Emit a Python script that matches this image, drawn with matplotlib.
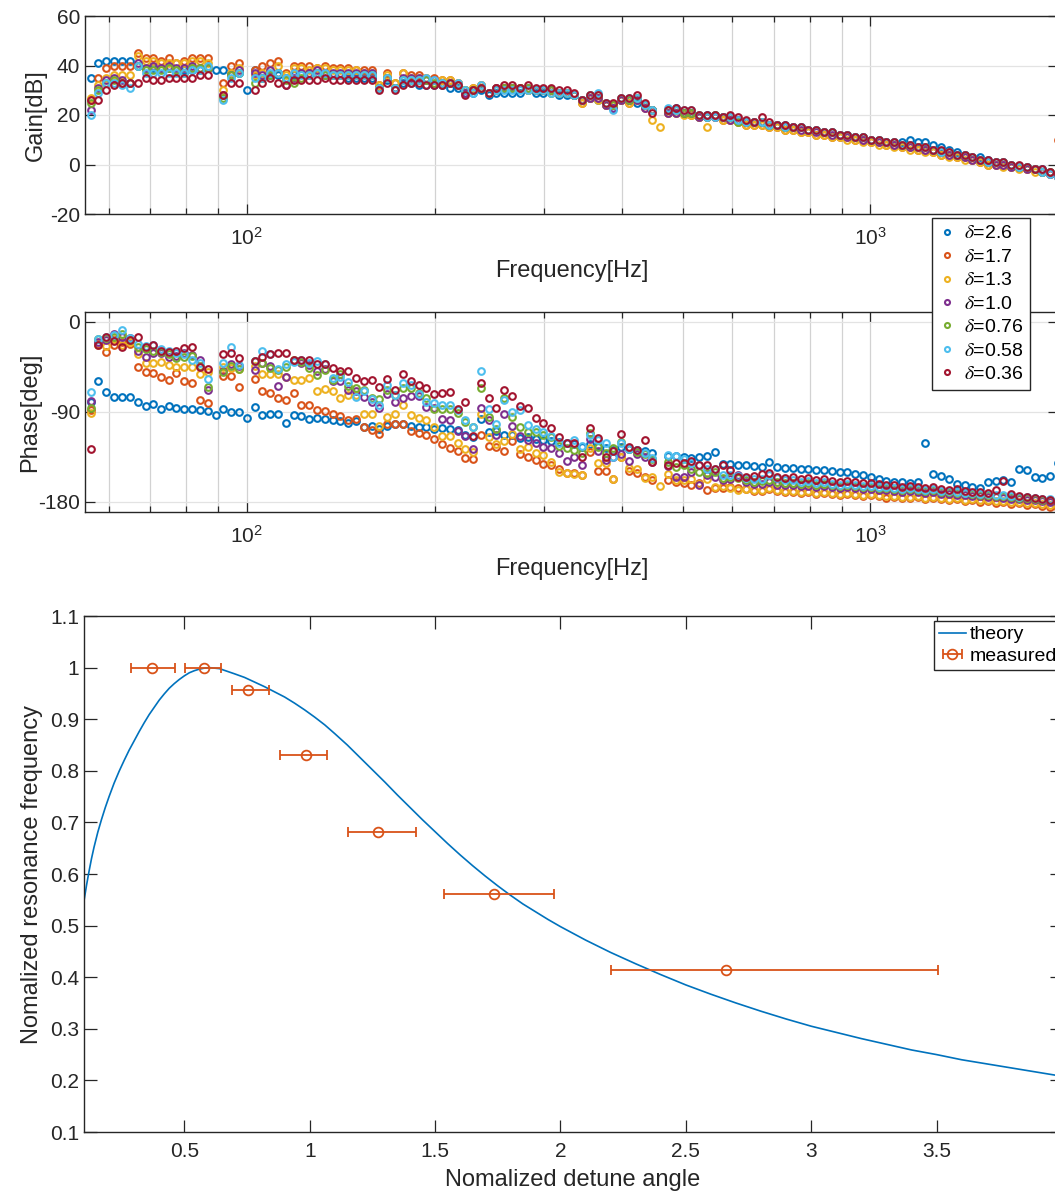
import numpy as np
import matplotlib.pyplot as plt
from matplotlib.ticker import NullFormatter

plt.rcParams['font.family'] = ['Liberation Sans', 'DejaVu Sans']
plt.rcParams['mathtext.fontset'] = 'stix'
plt.rcParams['axes.unicode_minus'] = False

nan = float('nan')

# ================== data ==================

freq = [56.2, 57.8, 59.5, 61.3, 63.1, 64.9, 66.8, 68.8, 70.8, 72.8,
        75.0, 77.1, 79.4, 81.7, 84.1, 86.6, 89.1, 91.7, 94.4, 97.1,
        100.0, 102.9, 105.9, 109.0, 112.2, 115.5, 118.9, 122.3, 125.9, 129.6,
        133.4, 137.3, 141.3, 145.4, 149.7, 154.0, 158.5, 163.2, 168.0, 172.9,
        177.9, 183.1, 188.5, 194.0, 199.7, 205.5, 211.5, 217.7, 224.0, 230.6,
        237.3, 244.3, 251.4, 258.8, 266.3, 274.1, 282.1, 290.4, 298.8, 307.6,
        316.5, 325.8, 335.3, 345.1, 355.2, 365.6, 376.2, 387.2, 398.5, 410.2,
        422.2, 434.5, 447.2, 460.3, 473.7, 487.6, 501.8, 516.5, 531.6, 547.1,
        563.1, 579.6, 596.5, 614.0, 631.9, 650.4, 669.4, 688.9, 709.1, 729.8,
        751.1, 773.1, 795.7, 818.9, 842.9, 867.5, 892.9, 919.0, 945.8, 973.4,
        1002, 1031, 1061, 1092, 1124, 1157, 1191, 1226, 1262, 1299,
        1337, 1376, 1416, 1457, 1500, 1544, 1589, 1635, 1683, 1732,
        1783, 1835, 1888, 1944, 2000]

labels = [r'$\delta$=2.6', r'$\delta$=1.7', r'$\delta$=1.3', r'$\delta$=1.0',
          r'$\delta$=0.76', r'$\delta$=0.58', r'$\delta$=0.36']
colors = ['#0072BD', '#D95319', '#EDB120', '#7E2F8E', '#77AC30', '#4DBEEE', '#A2142F']

gain_26 = [35, 41, 42, 42, 42, 42, 40, 39, 39, 39,
           39, 38, 38, 38, 38, 39, 38, 38, 37, 37,
           30, 38, 35, 36, 36, 35, 36, 37, 36, 37,
           36, 36, 36, 35, 35, 35, 35, 31, 34, 31,
           33, 33, 32, 32, 32, 32, 31, 31, 29, 29,
           30, 28, 29, 29, 29, 29, 30, 29, 29, 29,
           28, 28, 28, 26, 27, 26, 24, 23, 26, 26,
           25, 24, 22, nan, 22, 23, 21, 21, 19, 20,
           20, 19, 19, 18, 17, 17, 17, 16, 16, 16,
           15, 15, 14, 14, 13, 13, 12, 12, 11, 11,
           10, 10, 9, 9, 9, 10, 9, 9, 8, 7,
           6, 5, 4, 3, 3, 2, 1, 1, 0, -1,
           -1, -2, -2, -3, -4]
gain_17 = [26, 35, 39, 40, 40, 40, 45, 43, 43, 42,
           43, 41, 42, 43, 43, 43, nan, 33, 40, 41,
           nan, 38, 40, 41, 42, 37, 40, 40, 40, 39,
           40, 39, 39, 39, 38, 38, 38, 32, 37, 33,
           37, 36, 36, 35, 35, 34, 34, 33, 30, 31,
           32, 29, 31, 31, 31, 31, 30, 30, 30, 30,
           29, 29, 28, 25, 27, 27, 24, 24, 26, 25,
           26, 23, 22, nan, 21, 21, 21, 20, 19, 19,
           19, 18, 18, 17, 16, 16, 16, 15, 15, 14,
           14, 13, 13, 12, 12, 11, 11, 11, 10, 10,
           9, 9, 8, 8, 7, 7, 6, 6, 5, 4,
           4, 3, 3, 2, 1, 0, 0, 0, -1, -1,
           -2, -2, -3, -4, 10]
gain_13 = [27, 32, 35, 36, 36, 36, 44, 42, 42, 41,
           41, 41, 41, 42, 42, 41, nan, 30, 37, 39,
           nan, 36, 37, 38, 40, 36, 39, 39, 38, 39,
           39, 38, 38, 38, 38, 37, 37, 32, 36, 33,
           37, 35, 35, 35, 34, 34, 34, 33, 30, 31,
           32, 29, 31, 31, 31, 31, 30, 30, 30, 29,
           29, 29, 28, 25, 27, 26, 24, 24, 26, 25,
           26, 24, 18, 15, 21, 21, 20, 20, 19, 15,
           19, 18, 18, 17, 16, 16, 16, 15, 15, 14,
           14, 13, 13, 12, 12, 11, 11, 10, 10, 9,
           9, 8, 8, 7, 7, 6, 6, 5, 5, 4,
           3, 3, 2, 2, 1, 0, 0, -1, -1, -2,
           -2, -3, -3, -4, -5]
gain_10 = [22, 31, 34, 35, 34, 33, 41, 39, 40, 39,
           40, 39, 39, 40, 39, 39, nan, 28, 36, 38,
           nan, 37, 36, 38, 37, 32, 35, 37, 37, 38,
           37, 37, 37, 37, 37, 37, 37, 31, 35, 31,
           35, 35, 35, 34, 34, 33, 33, 32, 29, 30,
           31, 29, 31, 31, 31, 31, 31, 30, 30, 30,
           29, 29, 28, 26, 27, 27, 24, 23, 26, 26,
           26, 23, 22, nan, 21, 21, 21, 21, 19, 19,
           19, 19, 18, 18, 17, 17, 17, 16, 16, 15,
           15, 14, 14, 13, 13, 12, 12, 11, 11, 10,
           10, 9, 9, 8, 8, 7, 7, 6, 6, 5,
           4, 4, 3, 2, 2, 1, 0, 0, -1, -1,
           -2, -2, -3, -4, -5]
gain_076 = [25, 30, 33, 34, 33, 33, 40, 38, 38, 38,
            39, 38, 37, 39, 39, 39, nan, 27, 36, 37,
            nan, 33, 35, 36, 37, 34, 33, 35, 36, 37,
            36, 36, 36, 36, 36, 36, 36, 31, 35, 31,
            34, 34, 34, 34, 33, 33, 33, 32, 30, 30,
            31, 29, 30, 31, 31, 31, 31, 30, 30, 30,
            29, 29, 28, 26, 28, 28, 25, 24, 27, 26,
            27, 24, 22, nan, 22, 22, 21, 21, 20, 19,
            20, 19, 19, 17, 17, 17, 17, 16, 16, 15,
            15, 15, 14, 14, 13, 13, 12, 12, 11, 11,
            10, 10, 9, 9, 8, 8, 7, 7, 6, 5,
            5, 4, 4, 3, 2, 1, 1, 1, 0, -1,
            -1, -2, -3, -3, -4]
gain_058 = [20, 29, 33, 33, 32, 31, 40, 37, 37, 37,
            37, 37, 37, 38, 38, 40, nan, 26, 35, 37,
            nan, 35, 35, 37, 37, 35, 37, 36, 36, 37,
            37, 36, 36, 36, 36, 36, 36, 31, 35, 31,
            34, 34, 34, 35, 34, 33, 33, 33, 30, 29,
            32, 29, 30, 30, 30, 30, 30, 30, 30, 29,
            29, 29, 28, 26, 28, 29, 25, 22, 27, 27,
            27, 24, 22, nan, 23, 22, 22, 22, 20, 19,
            19, 19, 19, 18, 17, 17, 17, 16, 16, 15,
            15, 15, 14, 14, 13, 13, 12, 12, 11, 11,
            10, 10, 9, 9, 8, 8, 7, 7, 6, 5,
            5, 4, 4, 3, 2, 1, 1, 1, 0, -1,
            -1, -2, -3, -4, -5]
gain_036 = [26, 26, 30, 32, 33, 33, 33, 35, 34, 34,
            35, 35, 35, 35, 36, 36, nan, 28, 33, 33,
            nan, 30, 33, 35, 33, 32, 34, 34, 34, 34,
            35, 34, 34, 34, 34, 34, 34, 30, 33, 30,
            32, 33, 33, 32, 32, 32, 33, 32, 28, 30,
            31, 29, 31, 32, 32, 31, 32, 31, 31, 31,
            30, 30, 29, 26, 28, 28, 25, 25, 27, 27,
            28, 25, 21, nan, 22, 23, 22, 22, 20, 20,
            20, 19, 20, 19, 18, 17, 19, 17, 16, 16,
            15, 15, 14, 14, 13, 13, 12, 12, 11, 11,
            10, 10, 9, 9, 8, 8, 7, 7, 6, 6,
            5, 4, 4, 3, 2, 2, 1, 1, 0, 0,
            -1, -2, -2, -3, -4]

phase_26 = [-80, -59, -70, -75, -75, -75, -80, -84, -82, -87,
            -84, -86, -87, -87, -88, -89, -93, -87, -90, -90,
            -96, -85, -93, -92, -92, -101, -93, -94, -97, -96,
            -97, -98, -99, -101, -99, -105, -104, -107, -104, -102,
            -102, -104, -105, -105, -107, -106, -107, -108, -113, -115,
            -97, -110, -109, -113, -113, -116, -115, -117, -118, -119,
            -120, -121, -122, -125, -122, -124, -126, -128, -125, -127,
            -128, -129, -131, nan, -134, -134, -135, -136, -135, -134,
            -130, -142, -142, -143, -143, -144, -145, -140, -145, -146,
            -146, -147, -147, -148, -148, -149, -150, -150, -152, -153,
            -155, -157, -159, -160, -160, -161, -160, -121, -152, -154,
            -157, -162, -163, -165, -166, -160, -159, -158, -160, -147,
            -148, -155, -156, -154, -141]
phase_17 = [-88, -22, -30, -23, -20, -22, -45, -50, -51, -55,
            -58, -51, -59, -61, -78, -81, nan, -54, -54, -65,
            nan, -57, -69, -71, -76, -78, -71, -83, -83, -88,
            -89, -92, -94, -98, -97, -105, -108, -112, -102, -102,
            -102, -109, -111, -113, -117, -122, -126, -129, -136, -137,
            -113, -124, -125, -129, -119, -132, -135, -138, -142, -143,
            -147, -151, -151, -153, -130, -149, -149, -157, -135, -149,
            -151, -155, -158, nan, -158, -160, -161, -163, -161, -168,
            -166, -166, -165, -166, -167, -169, -169, -167, -169, -170,
            -170, -171, -170, -172, -171, -172, -173, -172, -173, -174,
            -173, -174, -176, -175, -176, -176, -175, -177, -176, -177,
            -178, -177, -179, -178, -180, -179, -181, -180, -182, -181,
            -183, -182, -184, -185, -186]
phase_13 = [-91, -23, -24, -17, -23, -20, -32, -41, -41, -40,
            -43, -45, -45, -45, -52, -50, nan, -45, -46, -47,
            nan, -44, -52, -52, -52, -55, -58, -58, -56, -69,
            -67, -69, -76, -73, -73, -92, -92, -104, -95, -92,
            -83, -93, -96, -98, -105, -114, -114, -121, -127, -130,
            -92, -115, -122, -119, -112, -127, -125, -131, -133, -140,
            -150, -151, -152, -153, -126, -141, -141, -157, -135, -146,
            -147, -156, -155, -164, -152, -158, -158, -157, -162, -157,
            -165, -164, -166, -168, -167, -168, -168, -166, -168, -169,
            -169, -170, -169, -171, -170, -171, -172, -171, -172, -173,
            -172, -173, -174, -174, -175, -175, -174, -176, -175, -176,
            -177, -176, -178, -177, -178, -178, -179, -179, -180, -180,
            -181, -181, -182, -183, -184]
phase_10 = [-79, -20, -18, -12, -15, -16, -29, -35, -31, -31,
            -35, -34, -31, -33, -38, -68, nan, -49, -42, -44,
            nan, -48, -41, -44, -64, -55, -39, -41, -43, -49,
            -47, -59, -59, -68, -69, -75, -80, -86, -72, -80,
            -76, -74, -74, -85, -86, -97, -98, -109, -114, -127,
            -86, -98, -113, -92, -104, -114, -118, -121, -125, -126,
            -131, -139, -135, -143, -117, -129, -138, -135, -132, -139,
            -132, -135, -140, nan, -144, -155, -155, -150, -163, -153,
            -155, -158, -157, -153, -160, -162, -162, -160, -163, -163,
            -163, -164, -164, -165, -164, -165, -166, -165, -166, -167,
            -167, -168, -168, -169, -170, -169, -170, -171, -170, -172,
            -172, -173, -173, -174, -174, -175, -175, -176, -177, -177,
            -178, -178, -179, -180, -181]
phase_076 = [-86, -17, -16, -15, -12, -18, -25, -27, -29, -30,
             -32, -36, -35, -34, -44, -65, nan, -50, -44, -47,
             nan, -39, -41, -46, -48, -45, -38, -40, -46, -53,
             -48, -58, -52, -64, -66, -68, -76, -77, -68, -73,
             -66, -66, -71, -76, -87, -87, -87, -91, -100, -105,
             -66, -95, -107, -76, -95, -105, -110, -110, -113, -115,
             -124, -126, -128, -131, -111, -125, -131, -126, -120, -127,
             -130, -132, -137, nan, -140, -145, -143, -147, -150, -151,
             -150, -156, -155, -156, -158, -160, -159, -158, -160, -161,
             -161, -162, -161, -163, -162, -163, -164, -163, -164, -165,
             -165, -166, -166, -167, -168, -167, -168, -169, -168, -170,
             -170, -171, -171, -172, -173, -173, -174, -174, -175, -176,
             -176, -177, -178, -178, -179]
phase_058 = [-70, -17, -15, -13, -8, -16, -22, -24, -23, -27,
             -29, -31, -32, -38, -41, -57, nan, -41, -25, -43,
             nan, -39, -29, -32, -47, -42, -40, -38, -41, -39,
             -42, -56, -55, -60, -75, -69, -77, -83, -63, -73,
             -61, -63, -72, -80, -81, -83, -83, -88, -98, -105,
             -49, -87, -102, -78, -90, -88, -103, -107, -110, -114,
             -121, -121, -118, -124, -113, -118, -121, -135, -121, -127,
             -128, -131, -136, nan, -133, -134, -137, -141, -143, -147,
             -147, -153, -153, -154, -156, -157, -157, -153, -156, -158,
             -158, -160, -159, -161, -160, -162, -163, -162, -163, -164,
             -164, -165, -165, -166, -167, -166, -167, -168, -167, -169,
             -169, -170, -171, -171, -172, -172, -173, -173, -174, -175,
             -175, -176, -177, -177, -178]
phase_036 = [-127, -23, -15, -19, -25, -18, -15, -25, -23, -29,
             -30, -29, -26, -25, -45, -47, nan, -32, -31, -36,
             nan, -39, -35, -32, -31, -31, -38, -38, -38, -42,
             -42, -46, -49, -49, -56, -59, -58, -65, -57, -68,
             -52, -59, -63, -66, -72, -71, -70, -87, -80, -114,
             -61, -76, -86, -68, -74, -84, -86, -96, -101, -106,
             -115, -121, -121, -135, -106, -116, -135, -129, -112, -125,
             -128, -118, -140, nan, -143, -141, -141, -139, -143, -143,
             -147, -143, -148, -155, -155, -154, -152, -151, -155, -156,
             -155, -157, -156, -158, -157, -159, -160, -159, -160, -161,
             -161, -162, -163, -163, -165, -164, -165, -166, -165, -167,
             -168, -167, -169, -170, -170, -171, -168, -159, -172, -174,
             -175, -176, -177, -178, -180]

gains = [gain_26, gain_17, gain_13, gain_10, gain_076, gain_058, gain_036]
phases = [phase_26, phase_17, phase_13, phase_10, phase_076, phase_058, phase_036]

theory_x = [0.10, 0.11, 0.12, 0.13, 0.14, 0.155, 0.17, 0.185, 0.20, 0.22,
            0.24, 0.26, 0.28, 0.30, 0.32, 0.34, 0.36, 0.38, 0.40, 0.42,
            0.44, 0.46, 0.48, 0.50, 0.52, 0.54, 0.56, 0.58, 0.60, 0.62,
            0.64, 0.67, 0.70, 0.74, 0.78, 0.82, 0.86, 0.90, 0.94, 0.98,
            1.02, 1.06, 1.10, 1.15, 1.20, 1.25, 1.30, 1.35, 1.40, 1.45,
            1.50, 1.55, 1.60, 1.65, 1.70, 1.75, 1.80, 1.85, 1.90, 1.95,
            2.00, 2.10, 2.20, 2.30, 2.40, 2.50, 2.60, 2.70, 2.80, 2.90,
            3.00, 3.10, 3.20, 3.30, 3.40, 3.50, 3.60, 3.70, 3.80, 3.90,
            4.00]
theory_y = [0.548, 0.578, 0.605, 0.630, 0.652, 0.681, 0.706, 0.729, 0.750, 0.776,
            0.799, 0.820, 0.840, 0.858, 0.876, 0.893, 0.909, 0.923, 0.937, 0.949,
            0.960, 0.969, 0.977, 0.984, 0.990, 0.994, 0.997, 0.999, 1.000, 0.999,
            0.998, 0.993, 0.988, 0.981, 0.972, 0.963, 0.953, 0.943, 0.931, 0.918,
            0.904, 0.889, 0.872, 0.850, 0.826, 0.802, 0.778, 0.753, 0.729, 0.705,
            0.682, 0.659, 0.637, 0.616, 0.596, 0.577, 0.559, 0.542, 0.527, 0.512,
            0.498, 0.472, 0.448, 0.426, 0.405, 0.385, 0.367, 0.350, 0.334, 0.319,
            0.305, 0.293, 0.281, 0.270, 0.259, 0.250, 0.240, 0.232, 0.224, 0.216,
            0.208]

meas_x = [0.37, 0.58, 0.754, 0.985, 1.274, 1.735, 2.659]
meas_y = [1.0, 1.0, 0.956, 0.83, 0.681, 0.561, 0.413]
meas_xerr_lo = [0.082, 0.079, 0.064, 0.104, 0.122, 0.198, 0.458]
meas_xerr_hi = [0.093, 0.067, 0.084, 0.085, 0.148, 0.240, 0.847]

# ================== figure ==================

W, H = 1055, 1196
fig = plt.figure(figsize=(W / 100, H / 100), dpi=100)


def rect(l, t, r, b):
    return [l / W, 1 - b / H, (r - l) / W, (b - t) / H]


dark = '#262626'


def style(ax):
    for s in ax.spines.values():
        s.set_color(dark)
        s.set_linewidth(1.0)
    ax.tick_params(which='both', direction='in', top=True, right=True,
                   colors=dark, labelsize=15, width=0.9)
    ax.tick_params(which='major', length=7)
    ax.tick_params(which='minor', length=4)


ax1 = fig.add_axes(rect(85, 16, 1058, 214))
ax2 = fig.add_axes(rect(85, 312, 1058, 512))
ax3 = fig.add_axes(rect(84, 616, 1062, 1132))

for ax, data in [(ax1, gains), (ax2, phases)]:
    for vals, c, lab in zip(data, colors, labels):
        ax.plot(freq, vals, 'o', ms=4.8, mfc='none', mec=c, mew=1.5, label=lab)
    ax.set_xscale('log')
    ax.set_xlim(55, 2000)
    ax.xaxis.set_minor_formatter(NullFormatter())
    ax.set_xticks([100, 1000])
    ax.set_xticklabels([r'$\mathregular{10^{2}}$', r'$\mathregular{10^{3}}$'])
    ax.set_axisbelow(True)
    ax.grid(True, which='major', color='#e3e3e3', lw=0.9)
    ax.xaxis.grid(True, which='minor', color='#d2d2d2', lw=0.9)
    ax.xaxis.grid(True, which='major', color='#d2d2d2', lw=0.9)
    style(ax)
    ax.tick_params(axis='x', which='major', pad=9)
    ax.set_xlabel('Frequency[Hz]', fontsize=17, color=dark, labelpad=8)

ax1.set_ylim(-20, 60)
ax1.set_yticks([-20, 0, 20, 40, 60])
ax1.set_ylabel('Gain[dB]', fontsize=17, color=dark, labelpad=2)

ax2.set_ylim(-190, 10)
ax2.set_yticks([-180, -90, 0])
ax2.set_ylabel('Phase[deg]', fontsize=17, color=dark, labelpad=-2)

handles, labs = ax1.get_legend_handles_labels()
fig.legend(handles, labs, loc='upper left', bbox_to_anchor=(932 / W, 1 - 218 / H),
           fontsize=14, frameon=True, fancybox=False, framealpha=1,
           edgecolor=dark, handlelength=0.8, handletextpad=0.5,
           labelspacing=0.3, borderpad=0.35, borderaxespad=0, markerscale=0.75)

# bottom panel
ax3.plot(theory_x, theory_y, color='#0072BD', lw=1.2, label='theory')
ax3.errorbar(meas_x, meas_y, xerr=[meas_xerr_lo, meas_xerr_hi], fmt='o',
             color='#D95319', mfc='none', ms=7, mew=1.3, elinewidth=1.3,
             capsize=3.5, capthick=1.3, label='measured')
ax3.set_xlim(0.1, 4)
ax3.set_ylim(0.1, 1.1)
ax3.set_xticks([0.5, 1, 1.5, 2, 2.5, 3, 3.5, 4])
ax3.set_xticklabels(['0.5', '1', '1.5', '2', '2.5', '3', '3.5', ''])
ax3.set_yticks([0.1, 0.2, 0.3, 0.4, 0.5, 0.6, 0.7, 0.8, 0.9, 1.0, 1.1])
ax3.set_yticklabels(['0.1', '0.2', '0.3', '0.4', '0.5', '0.6', '0.7', '0.8', '0.9', '1', '1.1'])
style(ax3)
ax3.tick_params(which='major', length=9)
ax3.tick_params(axis='x', pad=7)
ax3.set_xlabel('Nomalized detune angle', fontsize=17, color=dark, labelpad=6)
ax3.set_ylabel('Nomalized resonance frequency', fontsize=17, color=dark, labelpad=5)
ax3.legend(loc='upper left', bbox_to_anchor=(934 / W, 1 - 621 / H),
           bbox_transform=fig.transFigure, fontsize=14, frameon=True,
           fancybox=False, framealpha=1, edgecolor=dark, handlelength=1.4,
           handletextpad=0.2, labelspacing=0.2, borderpad=0.25, borderaxespad=0)

fig.savefig('out.png', dpi=100, facecolor='white')
